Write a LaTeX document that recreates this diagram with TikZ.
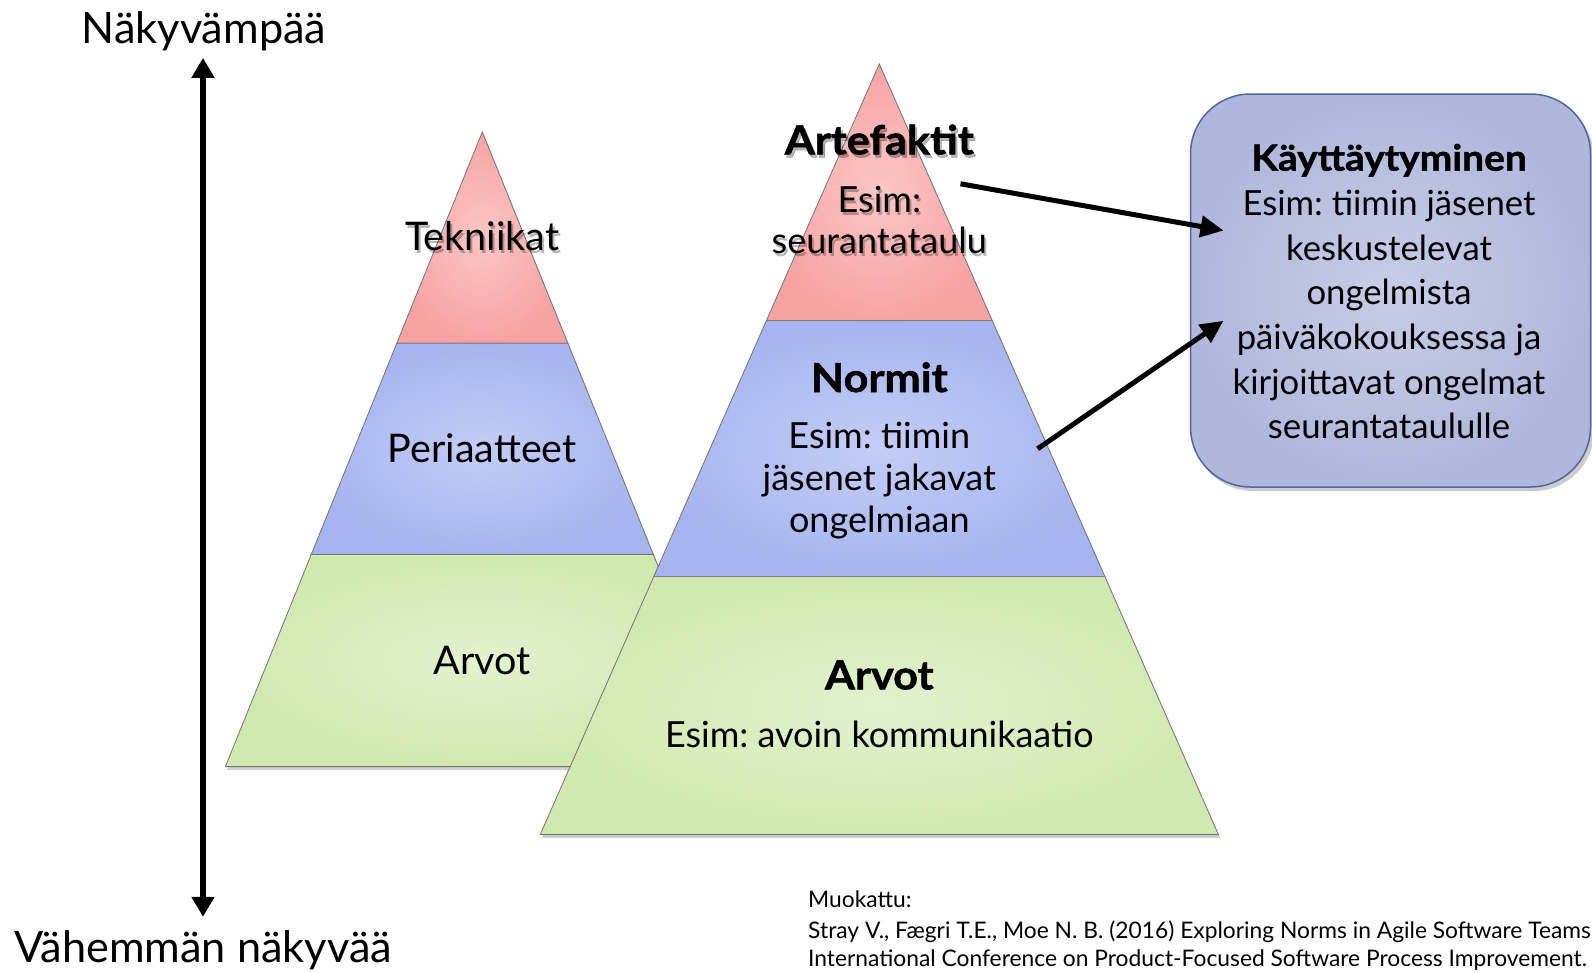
\documentclass[tikz,border=0pt]{standalone}
\usepackage{fontspec}
\setmainfont{Lato}
\newfontfamily\heavy[FakeStretch=1.08,FakeBold=1.3]{Lato}
\frenchspacing
\usetikzlibrary{arrows.meta}
\definecolor{redin}{HTML}{FCC6C6}
\definecolor{redout}{HTML}{F7A3A3}
\definecolor{bluein}{HTML}{C4CDF7}
\definecolor{blueout}{HTML}{A6B5EF}
\definecolor{greenin}{HTML}{E3F2CF}
\definecolor{greenout}{HTML}{D0E9AF}
\definecolor{boxin}{HTML}{C8CDE7}
\definecolor{boxout}{HTML}{AFB8DC}
\definecolor{boxline}{HTML}{4F66A2}
\begin{document}
\begin{tikzpicture}[x=1pt,y=-1pt,
  lbl/.style={anchor=base, inner sep=0pt, font=\fontsize{36}{40}\selectfont},
  llbl/.style={lbl, font=\fontsize{39.5}{42}\selectfont},
  blbl/.style={lbl, font=\fontsize{40}{42}\selectfont\heavy\bfseries},
  klbl/.style={lbl, font=\fontsize{34.7}{40}\selectfont},
  kblbl/.style={lbl, font=\fontsize{36}{40}\selectfont\heavy\bfseries},
  shd/.style={text=black, opacity=0.28},
  axislbl/.style={anchor=base, inner sep=0pt, font=\fontsize{43.3}{46}\selectfont},
  ref/.style={anchor=base west, inner sep=0pt, font=\fontsize{22.8}{24}\selectfont},
  layer/.style={draw=black!55, line width=0.8pt},
  redl/.style={layer, inner color=redin, outer color=redout},
  bluel/.style={layer, inner color=bluein, outer color=blueout},
  greenl/.style={layer, inner color=greenin, outer color=greenout},
  thickarrow/.style={line width=5pt, -{Triangle[length=23pt,width=21pt]}},
  axisarrow/.style={line width=6pt, {Triangle[length=20pt,width=22pt]}-{Triangle[length=20pt,width=22pt]}}
]
\useasboundingbox (0,0) rectangle (1592,972);
\clip (0,0) rectangle (1592,972);

% ---------- vertical axis ----------
\node[axislbl] (top) at (204,43.7) {Näkyvämpää};
\node[axislbl] (bot) at (203,962) {Vähemmän näkyvää};
\coordinate (axt) at (203,57.9);
\coordinate (axb) at (203,916.8);
\draw[axisarrow] (axt) -- (axb);

% ---------- left pyramid ----------
\fill[black, opacity=0.18] (484,135) -- (741,770) -- (227,770) -- cycle;
\path[redl] (482.3,132) -- (567.8,343.2) -- (396.8,343.2) -- cycle;
\path[bluel] (396.8,343.2) -- (567.8,343.2) -- (653.3,554.4) -- (311.3,554.4) -- cycle;
\path[greenl] (311.3,554.4) -- (653.3,554.4) -- (739.2,766.6) -- (225.4,766.6) -- cycle;

\node[llbl, shd] (teks) at (484.3,253.8) {Tekniikat};
\node[llbl] (tek) at (482.3,250.8) {Tekniikat};
\node[llbl] (per) at (482.3,462) {Periaatteet};
\node[llbl] (arv1) at (482.3,674) {Arvot};

% ---------- right pyramid ----------
\fill[black, opacity=0.18] (881,67) -- (1220.4,838) -- (542.2,838) -- cycle;
\path[redl] (879.3,64) -- (992.3,320.8) -- (766.3,320.8) -- cycle;
\path[bluel] (766.3,320.8) -- (992.3,320.8) -- (1104.9,576.7) -- (653.7,576.7) -- cycle;
\path[greenl] (653.7,576.7) -- (1104.9,576.7) -- (1218.4,834.6) -- (540.2,834.6) -- cycle;

\node[blbl, shd] (arts) at (881.3,157.3) {Artefaktit};
\node[lbl, shd] (esa1s) at (881.3,215.2) {Esim:};
\node[lbl, shd] (esa2s) at (881.3,256.8) {seurantataulu};
\node[blbl] (art) at (879.3,154.3) {Artefaktit};
\node[lbl] (esa1) at (879.3,212.2) {Esim:};
\node[lbl] (esa2) at (879.3,253.8) {seurantataulu};

\node[blbl] (nor) at (879.3,392) {Normit};
\node[lbl] (esn1) at (879.3,448.8) {Esim: tiimin};
\node[lbl] (esn2) at (879.3,490.4) {jäsenet jakavat};
\node[lbl] (esn3) at (879.3,532) {ongelmiaan};

\node[blbl] (arv2) at (879.3,689.4) {Arvot};
\node[lbl] (esv) at (879.3,747.3) {Esim: avoin kommunikaatio};

% ---------- behaviour box ----------
\fill[black, opacity=0.2, rounded corners=60pt] (1193,98) rectangle (1594,491);
\node[draw=boxline, line width=1.5pt, rounded corners=60pt, inner color=boxin, outer color=boxout,
      minimum width=400pt, minimum height=393pt, inner sep=0pt] (box) at (1390.5,290.5) {};
\node[kblbl] (k0) at (1389,170.6) {Käyttäytyminen};
\node[klbl] (k1) at (1389,215.3) {Esim: tiimin jäsenet};
\node[klbl] (k2) at (1389,260) {keskustelevat};
\node[klbl] (k3) at (1389,304.7) {ongelmista};
\node[klbl] (k4) at (1389,349.4) {päiväkokouksessa ja};
\node[klbl] (k5) at (1389,394.1) {kirjoittavat ongelmat};
\node[klbl] (k6) at (1389,438.8) {seurantataululle};

% ---------- arrows ----------
\coordinate (a1s) at (960.5,183.8);
\coordinate (a1e) at (1223.5,230.5);
\coordinate (a2s) at (1037.6,448.8);
\coordinate (a2e) at (1223.5,320.8);
\draw[thickarrow] (a1s) -- (a1e);
\draw[thickarrow] (a2s) -- (a2e);

% ---------- reference ----------
\node[ref] (r1) at (808,907.7) {Muokattu:};
\node[ref] (r2) at (808,938) {Stray V., Fægri T.E., Moe N. B. (2016) Exploring Norms in Agile Software Teams};
\node[ref] (r3) at (808,966.6) {International Conference on Product-Focused Software Process Improvement. S};
\end{tikzpicture}
\end{document}
